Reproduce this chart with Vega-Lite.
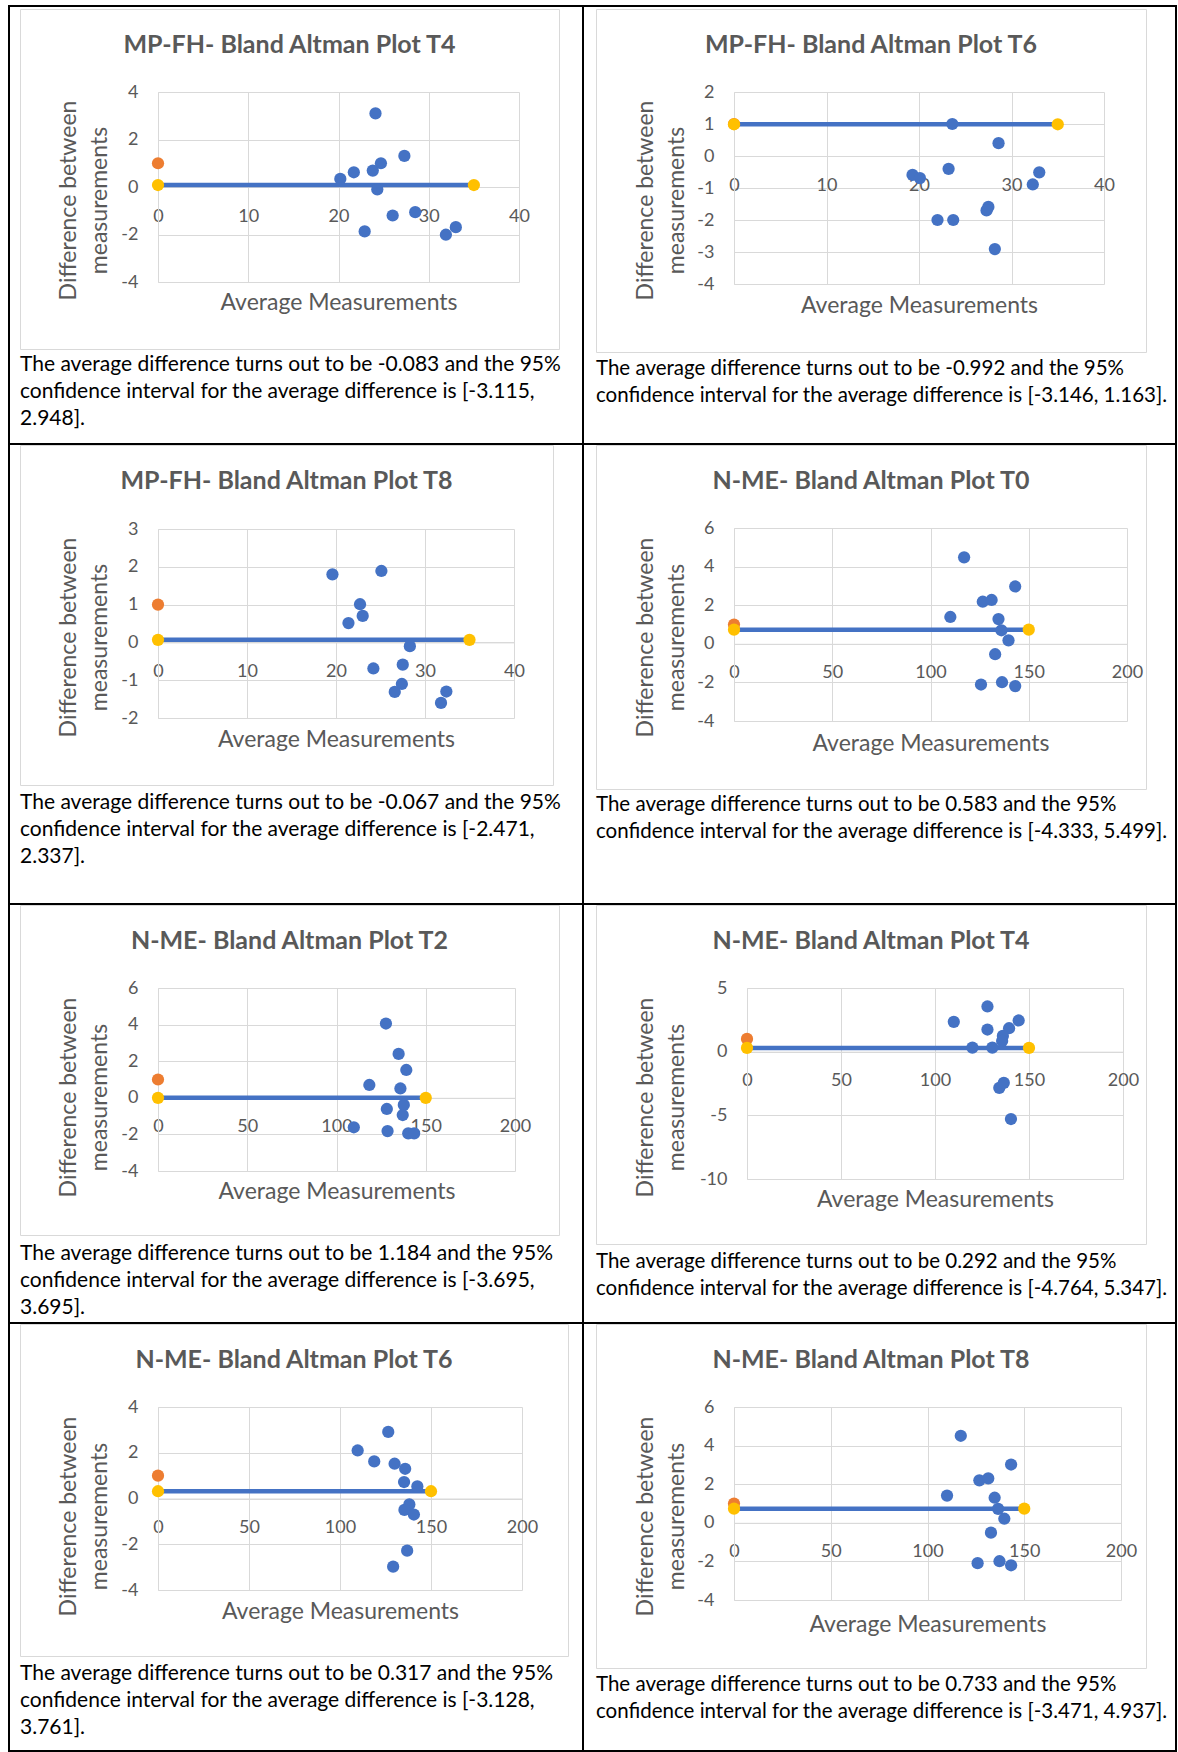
{
"$schema":"https://vega.github.io/schema/vega-lite/v6.json",
"background":"#ffffff",
"padding":{"left":8,"top":5,"right":0,"bottom":0},
"autosize":{"type":"pad"},
"spacing":0,
"columns":9,
"bounds":"flush",
"align":"each",
"config":{
"view":{"stroke":null},
"axis":{"labelFont":"Lato","labelFontSize":18,"labelColor":"#595959","titleFont":"Lato","titleFontSize":23,"titleFontWeight":"normal","titleColor":"#595959","gridColor":"#d9d9d9","gridWidth":1,"domainColor":"#d9d9d9","domainWidth":1,"ticks":false,"tickSize":0,"labelFlush":false,"labelOverlap":false,"labelBound":false},
"axisX":{"labelPadding":29,"labelBaseline":"middle","titleBaseline":"middle"},
"axisY":{"labelPadding":20,"titleAngle":-90,"titleBaseline":"middle","titleAlign":"center","titleLineHeight":31},
"title":{"font":"Lato","fontSize":25,"fontWeight":"bold","color":"#595959","frame":"group","anchor":"middle","baseline":"middle"}
},
"datasets":{
"pts":[
{"panel":"p1","kind":"obs","avg":24.1,"diff":3.1},{"panel":"p1","kind":"obs","avg":20.2,"diff":0.34},{"panel":"p1","kind":"obs","avg":21.7,"diff":0.62},{"panel":"p1","kind":"obs","avg":23.8,"diff":0.69},{"panel":"p1","kind":"obs","avg":24.7,"diff":1.0},{"panel":"p1","kind":"obs","avg":27.3,"diff":1.31},{"panel":"p1","kind":"obs","avg":24.3,"diff":-0.1},{"panel":"p1","kind":"obs","avg":26.0,"diff":-1.2},{"panel":"p1","kind":"obs","avg":28.5,"diff":-1.06},{"panel":"p1","kind":"obs","avg":22.9,"diff":-1.87},{"panel":"p1","kind":"obs","avg":31.9,"diff":-2.01},{"panel":"p1","kind":"obs","avg":33.0,"diff":-1.69},
{"panel":"p1","kind":"ref","avg":0,"diff":1},{"panel":"p1","kind":"mean","avg":0,"diff":0.083},{"panel":"p1","kind":"mean","avg":35,"diff":0.083},
{"panel":"p2","kind":"obs","avg":23.6,"diff":1.0},{"panel":"p2","kind":"obs","avg":28.6,"diff":0.4},{"panel":"p2","kind":"obs","avg":23.2,"diff":-0.4},{"panel":"p2","kind":"obs","avg":19.3,"diff":-0.59},{"panel":"p2","kind":"obs","avg":20.1,"diff":-0.69},{"panel":"p2","kind":"obs","avg":33.0,"diff":-0.51},{"panel":"p2","kind":"obs","avg":32.3,"diff":-0.89},{"panel":"p2","kind":"obs","avg":27.5,"diff":-1.59},{"panel":"p2","kind":"obs","avg":27.3,"diff":-1.7},{"panel":"p2","kind":"obs","avg":22.0,"diff":-2.0},{"panel":"p2","kind":"obs","avg":23.7,"diff":-2.0},{"panel":"p2","kind":"obs","avg":28.2,"diff":-2.91},
{"panel":"p2","kind":"ref","avg":0,"diff":1},{"panel":"p2","kind":"mean","avg":0,"diff":0.992},{"panel":"p2","kind":"mean","avg":35,"diff":0.992},
{"panel":"p3","kind":"obs","avg":19.6,"diff":1.8},{"panel":"p3","kind":"obs","avg":25.1,"diff":1.89},{"panel":"p3","kind":"obs","avg":22.7,"diff":1.01},{"panel":"p3","kind":"obs","avg":23.0,"diff":0.7},{"panel":"p3","kind":"obs","avg":21.4,"diff":0.51},{"panel":"p3","kind":"obs","avg":28.3,"diff":-0.1},{"panel":"p3","kind":"obs","avg":24.2,"diff":-0.69},{"panel":"p3","kind":"obs","avg":27.5,"diff":-0.59},{"panel":"p3","kind":"obs","avg":27.4,"diff":-1.1},{"panel":"p3","kind":"obs","avg":26.6,"diff":-1.31},{"panel":"p3","kind":"obs","avg":32.4,"diff":-1.3},{"panel":"p3","kind":"obs","avg":31.8,"diff":-1.6},
{"panel":"p3","kind":"ref","avg":0,"diff":1},{"panel":"p3","kind":"mean","avg":0,"diff":0.067},{"panel":"p3","kind":"mean","avg":35,"diff":0.067},
{"panel":"p4","kind":"obs","avg":117.1,"diff":4.48},{"panel":"p4","kind":"obs","avg":143.1,"diff":2.97},{"panel":"p4","kind":"obs","avg":126.6,"diff":2.18},{"panel":"p4","kind":"obs","avg":131.1,"diff":2.27},{"panel":"p4","kind":"obs","avg":110.1,"diff":1.39},{"panel":"p4","kind":"obs","avg":134.6,"diff":1.28},{"panel":"p4","kind":"obs","avg":136.1,"diff":0.7},{"panel":"p4","kind":"obs","avg":139.7,"diff":0.18},{"panel":"p4","kind":"obs","avg":132.9,"diff":-0.54},{"panel":"p4","kind":"obs","avg":125.7,"diff":-2.11},{"panel":"p4","kind":"obs","avg":136.4,"diff":-1.99},{"panel":"p4","kind":"obs","avg":143.1,"diff":-2.19},
{"panel":"p4","kind":"ref","avg":0,"diff":1},{"panel":"p4","kind":"mean","avg":0,"diff":0.733},{"panel":"p4","kind":"mean","avg":150,"diff":0.733},
{"panel":"p5","kind":"obs","avg":127.7,"diff":4.06},{"panel":"p5","kind":"obs","avg":134.8,"diff":2.4},{"panel":"p5","kind":"obs","avg":139.1,"diff":1.52},{"panel":"p5","kind":"obs","avg":118.4,"diff":0.7},{"panel":"p5","kind":"obs","avg":135.8,"diff":0.51},{"panel":"p5","kind":"obs","avg":137.7,"diff":-0.39},{"panel":"p5","kind":"obs","avg":137.1,"diff":-0.94},{"panel":"p5","kind":"obs","avg":128.2,"diff":-0.61},{"panel":"p5","kind":"obs","avg":109.7,"diff":-1.61},{"panel":"p5","kind":"obs","avg":128.6,"diff":-1.82},{"panel":"p5","kind":"obs","avg":140.2,"diff":-1.94},{"panel":"p5","kind":"obs","avg":143.5,"diff":-1.94},
{"panel":"p5","kind":"ref","avg":0,"diff":1},{"panel":"p5","kind":"mean","avg":0,"diff":0},{"panel":"p5","kind":"mean","avg":150,"diff":0},
{"panel":"p6","kind":"obs","avg":127.9,"diff":3.55},{"panel":"p6","kind":"obs","avg":110.0,"diff":2.34},{"panel":"p6","kind":"obs","avg":127.9,"diff":1.74},{"panel":"p6","kind":"obs","avg":144.5,"diff":2.45},{"panel":"p6","kind":"obs","avg":139.4,"diff":1.84},{"panel":"p6","kind":"obs","avg":136.1,"diff":1.24},{"panel":"p6","kind":"obs","avg":135.7,"diff":0.84},{"panel":"p6","kind":"obs","avg":119.9,"diff":0.32},{"panel":"p6","kind":"obs","avg":130.5,"diff":0.32},{"panel":"p6","kind":"obs","avg":134.2,"diff":-2.84},{"panel":"p6","kind":"obs","avg":136.6,"diff":-2.45},{"panel":"p6","kind":"obs","avg":140.4,"diff":-5.29},
{"panel":"p6","kind":"ref","avg":0,"diff":1},{"panel":"p6","kind":"mean","avg":0,"diff":0.292},{"panel":"p6","kind":"mean","avg":150,"diff":0.292},
{"panel":"p7","kind":"obs","avg":126.5,"diff":2.91},{"panel":"p7","kind":"obs","avg":109.7,"diff":2.1},{"panel":"p7","kind":"obs","avg":118.8,"diff":1.62},{"panel":"p7","kind":"obs","avg":130.0,"diff":1.52},{"panel":"p7","kind":"obs","avg":135.8,"diff":1.3},{"panel":"p7","kind":"obs","avg":135.2,"diff":0.72},{"panel":"p7","kind":"obs","avg":142.5,"diff":0.53},{"panel":"p7","kind":"obs","avg":138.1,"diff":-0.26},{"panel":"p7","kind":"obs","avg":135.4,"diff":-0.5},{"panel":"p7","kind":"obs","avg":140.6,"diff":-0.7},{"panel":"p7","kind":"obs","avg":136.9,"diff":-2.28},{"panel":"p7","kind":"obs","avg":129.2,"diff":-2.98},
{"panel":"p7","kind":"ref","avg":0,"diff":1},{"panel":"p7","kind":"mean","avg":0,"diff":0.317},{"panel":"p7","kind":"mean","avg":150,"diff":0.317},
{"panel":"p8","kind":"obs","avg":117.2,"diff":4.51},{"panel":"p8","kind":"obs","avg":143.2,"diff":3.02},{"panel":"p8","kind":"obs","avg":126.8,"diff":2.2},{"panel":"p8","kind":"obs","avg":131.4,"diff":2.3},{"panel":"p8","kind":"obs","avg":110.1,"diff":1.41},{"panel":"p8","kind":"obs","avg":134.7,"diff":1.3},{"panel":"p8","kind":"obs","avg":136.5,"diff":0.72},{"panel":"p8","kind":"obs","avg":139.7,"diff":0.21},{"panel":"p8","kind":"obs","avg":132.8,"diff":-0.51},{"panel":"p8","kind":"obs","avg":125.9,"diff":-2.09},{"panel":"p8","kind":"obs","avg":137.2,"diff":-1.99},{"panel":"p8","kind":"obs","avg":143.2,"diff":-2.2},
{"panel":"p8","kind":"ref","avg":0,"diff":1},{"panel":"p8","kind":"mean","avg":0,"diff":0.733},{"panel":"p8","kind":"mean","avg":150,"diff":0.733}
],
"txt":[
{"cell":"c1","line":0,"text":"The average difference turns out to be -0.083 and the 95%"},{"cell":"c1","line":1,"text":"confidence interval for the average difference is [-3.115,"},{"cell":"c1","line":2,"text":"2.948]."},
{"cell":"c2","line":0,"text":"The average difference turns out to be -0.992 and the 95%"},{"cell":"c2","line":1,"text":"confidence interval for the average difference is [-3.146, 1.163]."},
{"cell":"c3","line":0,"text":"The average difference turns out to be -0.067 and the 95%"},{"cell":"c3","line":1,"text":"confidence interval for the average difference is [-2.471,"},{"cell":"c3","line":2,"text":"2.337]."},
{"cell":"c4","line":0,"text":"The average difference turns out to be 0.583 and the 95%"},{"cell":"c4","line":1,"text":"confidence interval for the average difference is [-4.333, 5.499]."},
{"cell":"c5","line":0,"text":"The average difference turns out to be 1.184 and the 95%"},{"cell":"c5","line":1,"text":"confidence interval for the average difference is [-3.695,"},{"cell":"c5","line":2,"text":"3.695]."},
{"cell":"c6","line":0,"text":"The average difference turns out to be 0.292 and the 95%"},{"cell":"c6","line":1,"text":"confidence interval for the average difference is [-4.764, 5.347]."},
{"cell":"c7","line":0,"text":"The average difference turns out to be 0.317 and the 95%"},{"cell":"c7","line":1,"text":"confidence interval for the average difference is [-3.128,"},{"cell":"c7","line":2,"text":"3.761]."},
{"cell":"c8","line":0,"text":"The average difference turns out to be 0.733 and the 95%"},{"cell":"c8","line":1,"text":"confidence interval for the average difference is [-3.471, 4.937]."}
]
},
"concat":[
{"width":2,"height":2,"mark":"point","data":{"values":[]},"view":{"fill":"#000"}},{"width":10,"height":2,"mark":"point","data":{"values":[]},"view":{"fill":"#000"}},{"width":560,"height":2,"mark":"point","data":{"values":[]},"view":{"fill":"#000"}},{"width":2,"height":2,"mark":"point","data":{"values":[]},"view":{"fill":"#000"}},{"width":2,"height":2,"mark":"point","data":{"values":[]},"view":{"fill":"#000"}},{"width":12,"height":2,"mark":"point","data":{"values":[]},"view":{"fill":"#000"}},{"width":577,"height":2,"mark":"point","data":{"values":[]},"view":{"fill":"#000"}},{"width":2,"height":2,"mark":"point","data":{"values":[]},"view":{"fill":"#000"}},{"width":2,"height":2,"mark":"point","data":{"values":[]},"view":{"fill":"#000"}},

{"width":2,"height":2,"mark":"point","data":{"values":[]},"view":{"fill":"#000"}},{"width":10,"height":2,"mark":"point","data":{"values":[]}},{"width":560,"height":2,"mark":"point","data":{"values":[]}},{"width":2,"height":2,"mark":"point","data":{"values":[]}},{"width":2,"height":2,"mark":"point","data":{"values":[]},"view":{"fill":"#000"}},{"width":12,"height":2,"mark":"point","data":{"values":[]}},{"width":577,"height":2,"mark":"point","data":{"values":[]}},{"width":2,"height":2,"mark":"point","data":{"values":[]}},{"width":2,"height":2,"mark":"point","data":{"values":[]},"view":{"fill":"#000"}},

{"width":2,"height":343,"mark":"point","data":{"values":[]},"view":{"fill":"#000"}},{"width":10,"height":343,"mark":"point","data":{"values":[]}},
{"width":539,"height":340,"view":{"stroke":"#d9d9d9","fill":"#ffffff"},"title":{"text":"MP-FH- Bland Altman Plot T4","offset":-49},"data":{"name":"pts"},"transform":[{"filter":"datum.panel=='p1'"}],"resolve":{"axis":{"x":"independent","y":"independent"}},
"layer":[
{"transform":[{"filter":"datum.kind=='mean'"}],"mark":{"type":"line","color":"#4472c4","strokeWidth":4.5},"encoding":{"x":{"field":"avg","type":"quantitative","scale":{"domain":[0,40],"range":[138,499],"nice":false,"zero":false},"axis":{"orient":"bottom","offset":-162,"values":[0,10,20,30,40],"grid":false,"title":"Average Measurements","titleY":115,"labelExpr":"''+datum.value"}},"y":{"field":"diff","type":"quantitative","scale":{"domain":[-4,4],"range":[273,83],"nice":false,"zero":false},"axis":{"orient":"left","offset":-138,"values":[-4,-2,0,2,4],"grid":true,"title":["Difference between","measurements"],"titleX":-89.5,"titleY":191,"labelExpr":"''+datum.value"}}}},
{"transform":[{"filter":"datum.kind=='obs'"}],"mark":{"type":"circle","color":"#4472c4","size":150,"opacity":1},"encoding":{"x":{"field":"avg","type":"quantitative","scale":{"domain":[0,40],"range":[138,499],"nice":false,"zero":false},"axis":{"orient":"top","values":[0,10,20,30,40],"grid":true,"labels":false,"domain":false,"title":null}},"y":{"field":"diff","type":"quantitative","scale":{"domain":[-4,4],"range":[273,83],"nice":false,"zero":false},"axis":null}}},
{"transform":[{"filter":"datum.kind=='ref'"}],"mark":{"type":"circle","color":"#ed7d31","size":150,"opacity":1},"encoding":{"x":{"field":"avg","type":"quantitative","scale":{"domain":[0,40],"range":[138,499],"nice":false,"zero":false},"axis":null},"y":{"field":"diff","type":"quantitative","scale":{"domain":[-4,4],"range":[273,83],"nice":false,"zero":false},"axis":null}}},
{"transform":[{"filter":"datum.kind=='mean'"}],"mark":{"type":"circle","color":"#ffc000","size":150,"opacity":1},"encoding":{"x":{"field":"avg","type":"quantitative","scale":{"domain":[0,40],"range":[138,499],"nice":false,"zero":false},"axis":null},"y":{"field":"diff","type":"quantitative","scale":{"domain":[-4,4],"range":[273,83],"nice":false,"zero":false},"axis":null}}}
]},
{"width":2,"height":343,"mark":"point","data":{"values":[]}},{"width":2,"height":343,"mark":"point","data":{"values":[]},"view":{"fill":"#000"}},{"width":12,"height":343,"mark":"point","data":{"values":[]}},
{"width":550,"height":343,"view":{"stroke":"#d9d9d9","fill":"#ffffff"},"title":{"text":"MP-FH- Bland Altman Plot T6","offset":-49},"data":{"name":"pts"},"transform":[{"filter":"datum.panel=='p2'"}],"resolve":{"axis":{"x":"independent","y":"independent"}},
"layer":[
{"transform":[{"filter":"datum.kind=='mean'"}],"mark":{"type":"line","color":"#4472c4","strokeWidth":4.5},"encoding":{"x":{"field":"avg","type":"quantitative","scale":{"domain":[0,40],"range":[138,508],"nice":false,"zero":false},"axis":{"orient":"bottom","offset":-196,"values":[0,10,20,30,40],"grid":false,"title":"Average Measurements","titleY":149,"labelExpr":"''+datum.value"}},"y":{"field":"diff","type":"quantitative","scale":{"domain":[-4,2],"range":[275,83],"nice":false,"zero":false},"axis":{"orient":"left","offset":-138,"values":[-4,-3,-2,-1,0,1,2],"grid":true,"title":["Difference between","measurements"],"titleX":-88.7,"titleY":191,"labelExpr":"''+datum.value"}}}},
{"transform":[{"filter":"datum.kind=='obs'"}],"mark":{"type":"circle","color":"#4472c4","size":150,"opacity":1},"encoding":{"x":{"field":"avg","type":"quantitative","scale":{"domain":[0,40],"range":[138,508],"nice":false,"zero":false},"axis":{"orient":"top","values":[0,10,20,30,40],"grid":true,"labels":false,"domain":false,"title":null}},"y":{"field":"diff","type":"quantitative","scale":{"domain":[-4,2],"range":[275,83],"nice":false,"zero":false},"axis":null}}},
{"transform":[{"filter":"datum.kind=='ref'"}],"mark":{"type":"circle","color":"#ed7d31","size":150,"opacity":1},"encoding":{"x":{"field":"avg","type":"quantitative","scale":{"domain":[0,40],"range":[138,508],"nice":false,"zero":false},"axis":null},"y":{"field":"diff","type":"quantitative","scale":{"domain":[-4,2],"range":[275,83],"nice":false,"zero":false},"axis":null}}},
{"transform":[{"filter":"datum.kind=='mean'"}],"mark":{"type":"circle","color":"#ffc000","size":150,"opacity":1},"encoding":{"x":{"field":"avg","type":"quantitative","scale":{"domain":[0,40],"range":[138,508],"nice":false,"zero":false},"axis":null},"y":{"field":"diff","type":"quantitative","scale":{"domain":[-4,2],"range":[275,83],"nice":false,"zero":false},"axis":null}}}
]},
{"width":2,"height":343,"mark":"point","data":{"values":[]}},{"width":2,"height":343,"mark":"point","data":{"values":[]},"view":{"fill":"#000"}},

{"width":2,"height":91,"mark":"point","data":{"values":[]},"view":{"fill":"#000"}},{"width":10,"height":91,"mark":"point","data":{"values":[]}},
{"width":560,"height":91,"data":{"name":"txt"},"transform":[{"filter":"datum.cell=='c1'"}],"mark":{"type":"text","align":"left","baseline":"middle","font":"Lato","fontSize":21,"color":"#000000"},"encoding":{"x":{"datum":0,"type":"quantitative","scale":{"domain":[0,1],"nice":false,"zero":false},"axis":null},"y":{"field":"line","type":"quantitative","scale":{"domain":[-0.481,2.889],"reverse":true,"nice":false,"zero":false},"axis":null},"text":{"field":"text"}}},
{"width":2,"height":91,"mark":"point","data":{"values":[]}},{"width":2,"height":91,"mark":"point","data":{"values":[]},"view":{"fill":"#000"}},{"width":12,"height":91,"mark":"point","data":{"values":[]}},
{"width":577,"height":91,"data":{"name":"txt"},"transform":[{"filter":"datum.cell=='c2'"}],"mark":{"type":"text","align":"left","baseline":"middle","font":"Lato","fontSize":20.5,"color":"#000000"},"encoding":{"x":{"datum":0,"type":"quantitative","scale":{"domain":[0,1],"nice":false,"zero":false},"axis":null},"y":{"field":"line","type":"quantitative","scale":{"domain":[-0.63,2.74],"reverse":true,"nice":false,"zero":false},"axis":null},"text":{"field":"text"}}},
{"width":2,"height":91,"mark":"point","data":{"values":[]}},{"width":2,"height":91,"mark":"point","data":{"values":[]},"view":{"fill":"#000"}},

{"width":2,"height":2,"mark":"point","data":{"values":[]},"view":{"fill":"#000"}},{"width":10,"height":2,"mark":"point","data":{"values":[]},"view":{"fill":"#000"}},{"width":560,"height":2,"mark":"point","data":{"values":[]},"view":{"fill":"#000"}},{"width":2,"height":2,"mark":"point","data":{"values":[]},"view":{"fill":"#000"}},{"width":2,"height":2,"mark":"point","data":{"values":[]},"view":{"fill":"#000"}},{"width":12,"height":2,"mark":"point","data":{"values":[]},"view":{"fill":"#000"}},{"width":577,"height":2,"mark":"point","data":{"values":[]},"view":{"fill":"#000"}},{"width":2,"height":2,"mark":"point","data":{"values":[]},"view":{"fill":"#000"}},{"width":2,"height":2,"mark":"point","data":{"values":[]},"view":{"fill":"#000"}},

{"width":2,"height":344,"mark":"point","data":{"values":[]},"view":{"fill":"#000"}},{"width":10,"height":344,"mark":"point","data":{"values":[]}},
{"width":533,"height":340,"view":{"stroke":"#d9d9d9","fill":"#ffffff"},"title":{"text":"MP-FH- Bland Altman Plot T8","offset":-49},"data":{"name":"pts"},"transform":[{"filter":"datum.panel=='p3'"}],"resolve":{"axis":{"x":"independent","y":"independent"}},
"layer":[
{"transform":[{"filter":"datum.kind=='mean'"}],"mark":{"type":"line","color":"#4472c4","strokeWidth":4.5},"encoding":{"x":{"field":"avg","type":"quantitative","scale":{"domain":[0,40],"range":[138,494],"nice":false,"zero":false},"axis":{"orient":"bottom","offset":-142.6,"values":[0,10,20,30,40],"grid":false,"title":"Average Measurements","titleY":97.5,"labelExpr":"''+datum.value"}},"y":{"field":"diff","type":"quantitative","scale":{"domain":[-2,3],"range":[273,84],"nice":false,"zero":false},"axis":{"orient":"left","offset":-138,"values":[-2,-1,0,1,2,3],"grid":true,"title":["Difference between","measurements"],"titleX":-89.5,"titleY":192,"labelExpr":"''+datum.value"}}}},
{"transform":[{"filter":"datum.kind=='obs'"}],"mark":{"type":"circle","color":"#4472c4","size":150,"opacity":1},"encoding":{"x":{"field":"avg","type":"quantitative","scale":{"domain":[0,40],"range":[138,494],"nice":false,"zero":false},"axis":{"orient":"top","values":[0,10,20,30,40],"grid":true,"labels":false,"domain":false,"title":null}},"y":{"field":"diff","type":"quantitative","scale":{"domain":[-2,3],"range":[273,84],"nice":false,"zero":false},"axis":null}}},
{"transform":[{"filter":"datum.kind=='ref'"}],"mark":{"type":"circle","color":"#ed7d31","size":150,"opacity":1},"encoding":{"x":{"field":"avg","type":"quantitative","scale":{"domain":[0,40],"range":[138,494],"nice":false,"zero":false},"axis":null},"y":{"field":"diff","type":"quantitative","scale":{"domain":[-2,3],"range":[273,84],"nice":false,"zero":false},"axis":null}}},
{"transform":[{"filter":"datum.kind=='mean'"}],"mark":{"type":"circle","color":"#ffc000","size":150,"opacity":1},"encoding":{"x":{"field":"avg","type":"quantitative","scale":{"domain":[0,40],"range":[138,494],"nice":false,"zero":false},"axis":null},"y":{"field":"diff","type":"quantitative","scale":{"domain":[-2,3],"range":[273,84],"nice":false,"zero":false},"axis":null}}}
]},
{"width":2,"height":344,"mark":"point","data":{"values":[]}},{"width":2,"height":344,"mark":"point","data":{"values":[]},"view":{"fill":"#000"}},{"width":12,"height":344,"mark":"point","data":{"values":[]}},
{"width":550,"height":344,"view":{"stroke":"#d9d9d9","fill":"#ffffff"},"title":{"text":"N-ME- Bland Altman Plot T0","offset":-49},"data":{"name":"pts"},"transform":[{"filter":"datum.panel=='p4'"}],"resolve":{"axis":{"x":"independent","y":"independent"}},
"layer":[
{"transform":[{"filter":"datum.kind=='mean'"}],"mark":{"type":"line","color":"#4472c4","strokeWidth":4.5},"encoding":{"x":{"field":"avg","type":"quantitative","scale":{"domain":[0,200],"range":[138,531],"nice":false,"zero":false},"axis":{"orient":"bottom","offset":-145.2,"values":[0,50,100,150,200],"grid":false,"title":"Average Measurements","titleY":99.4,"labelExpr":"''+datum.value"}},"y":{"field":"diff","type":"quantitative","scale":{"domain":[-4,6],"range":[276,83],"nice":false,"zero":false},"axis":{"orient":"left","offset":-138,"values":[-4,-2,0,2,4,6],"grid":true,"title":["Difference between","measurements"],"titleX":-88.7,"titleY":192,"labelExpr":"''+datum.value"}}}},
{"transform":[{"filter":"datum.kind=='obs'"}],"mark":{"type":"circle","color":"#4472c4","size":150,"opacity":1},"encoding":{"x":{"field":"avg","type":"quantitative","scale":{"domain":[0,200],"range":[138,531],"nice":false,"zero":false},"axis":{"orient":"top","values":[0,50,100,150,200],"grid":true,"labels":false,"domain":false,"title":null}},"y":{"field":"diff","type":"quantitative","scale":{"domain":[-4,6],"range":[276,83],"nice":false,"zero":false},"axis":null}}},
{"transform":[{"filter":"datum.kind=='ref'"}],"mark":{"type":"circle","color":"#ed7d31","size":150,"opacity":1},"encoding":{"x":{"field":"avg","type":"quantitative","scale":{"domain":[0,200],"range":[138,531],"nice":false,"zero":false},"axis":null},"y":{"field":"diff","type":"quantitative","scale":{"domain":[-4,6],"range":[276,83],"nice":false,"zero":false},"axis":null}}},
{"transform":[{"filter":"datum.kind=='mean'"}],"mark":{"type":"circle","color":"#ffc000","size":150,"opacity":1},"encoding":{"x":{"field":"avg","type":"quantitative","scale":{"domain":[0,200],"range":[138,531],"nice":false,"zero":false},"axis":null},"y":{"field":"diff","type":"quantitative","scale":{"domain":[-4,6],"range":[276,83],"nice":false,"zero":false},"axis":null}}}
]},
{"width":2,"height":344,"mark":"point","data":{"values":[]}},{"width":2,"height":344,"mark":"point","data":{"values":[]},"view":{"fill":"#000"}},

{"width":2,"height":114,"mark":"point","data":{"values":[]},"view":{"fill":"#000"}},{"width":10,"height":114,"mark":"point","data":{"values":[]}},
{"width":560,"height":114,"data":{"name":"txt"},"transform":[{"filter":"datum.cell=='c3'"}],"mark":{"type":"text","align":"left","baseline":"middle","font":"Lato","fontSize":21,"color":"#000000"},"encoding":{"x":{"datum":0,"type":"quantitative","scale":{"domain":[0,1],"nice":false,"zero":false},"axis":null},"y":{"field":"line","type":"quantitative","scale":{"domain":[-0.5,3.722],"reverse":true,"nice":false,"zero":false},"axis":null},"text":{"field":"text"}}},
{"width":2,"height":114,"mark":"point","data":{"values":[]}},{"width":2,"height":114,"mark":"point","data":{"values":[]},"view":{"fill":"#000"}},{"width":12,"height":114,"mark":"point","data":{"values":[]}},
{"width":577,"height":114,"data":{"name":"txt"},"transform":[{"filter":"datum.cell=='c4'"}],"mark":{"type":"text","align":"left","baseline":"middle","font":"Lato","fontSize":20.5,"color":"#000000"},"encoding":{"x":{"datum":0,"type":"quantitative","scale":{"domain":[0,1],"nice":false,"zero":false},"axis":null},"y":{"field":"line","type":"quantitative","scale":{"domain":[-0.581,3.641],"reverse":true,"nice":false,"zero":false},"axis":null},"text":{"field":"text"}}},
{"width":2,"height":114,"mark":"point","data":{"values":[]}},{"width":2,"height":114,"mark":"point","data":{"values":[]},"view":{"fill":"#000"}},

{"width":2,"height":2,"mark":"point","data":{"values":[]},"view":{"fill":"#000"}},{"width":10,"height":2,"mark":"point","data":{"values":[]},"view":{"fill":"#000"}},{"width":560,"height":2,"mark":"point","data":{"values":[]},"view":{"fill":"#000"}},{"width":2,"height":2,"mark":"point","data":{"values":[]},"view":{"fill":"#000"}},{"width":2,"height":2,"mark":"point","data":{"values":[]},"view":{"fill":"#000"}},{"width":12,"height":2,"mark":"point","data":{"values":[]},"view":{"fill":"#000"}},{"width":577,"height":2,"mark":"point","data":{"values":[]},"view":{"fill":"#000"}},{"width":2,"height":2,"mark":"point","data":{"values":[]},"view":{"fill":"#000"}},{"width":2,"height":2,"mark":"point","data":{"values":[]},"view":{"fill":"#000"}},

{"width":2,"height":339,"mark":"point","data":{"values":[]},"view":{"fill":"#000"}},{"width":10,"height":339,"mark":"point","data":{"values":[]}},
{"width":539,"height":330,"view":{"stroke":"#d9d9d9","fill":"#ffffff"},"title":{"text":"N-ME- Bland Altman Plot T2","offset":-49},"data":{"name":"pts"},"transform":[{"filter":"datum.panel=='p5'"}],"resolve":{"axis":{"x":"independent","y":"independent"}},
"layer":[
{"transform":[{"filter":"datum.kind=='mean'"}],"mark":{"type":"line","color":"#4472c4","strokeWidth":4.5},"encoding":{"x":{"field":"avg","type":"quantitative","scale":{"domain":[0,200],"range":[138,495],"nice":false,"zero":false},"axis":{"orient":"bottom","offset":-137.2,"values":[0,50,100,150,200],"grid":false,"title":"Average Measurements","titleY":93.6,"labelExpr":"''+datum.value"}},"y":{"field":"diff","type":"quantitative","scale":{"domain":[-4,6],"range":[266,83],"nice":false,"zero":false},"axis":{"orient":"left","offset":-138,"values":[-4,-2,0,2,4,6],"grid":true,"title":["Difference between","measurements"],"titleX":-89.5,"titleY":192,"labelExpr":"''+datum.value"}}}},
{"transform":[{"filter":"datum.kind=='obs'"}],"mark":{"type":"circle","color":"#4472c4","size":150,"opacity":1},"encoding":{"x":{"field":"avg","type":"quantitative","scale":{"domain":[0,200],"range":[138,495],"nice":false,"zero":false},"axis":{"orient":"top","values":[0,50,100,150,200],"grid":true,"labels":false,"domain":false,"title":null}},"y":{"field":"diff","type":"quantitative","scale":{"domain":[-4,6],"range":[266,83],"nice":false,"zero":false},"axis":null}}},
{"transform":[{"filter":"datum.kind=='ref'"}],"mark":{"type":"circle","color":"#ed7d31","size":150,"opacity":1},"encoding":{"x":{"field":"avg","type":"quantitative","scale":{"domain":[0,200],"range":[138,495],"nice":false,"zero":false},"axis":null},"y":{"field":"diff","type":"quantitative","scale":{"domain":[-4,6],"range":[266,83],"nice":false,"zero":false},"axis":null}}},
{"transform":[{"filter":"datum.kind=='mean'"}],"mark":{"type":"circle","color":"#ffc000","size":150,"opacity":1},"encoding":{"x":{"field":"avg","type":"quantitative","scale":{"domain":[0,200],"range":[138,495],"nice":false,"zero":false},"axis":null},"y":{"field":"diff","type":"quantitative","scale":{"domain":[-4,6],"range":[266,83],"nice":false,"zero":false},"axis":null}}}
]},
{"width":2,"height":339,"mark":"point","data":{"values":[]}},{"width":2,"height":339,"mark":"point","data":{"values":[]},"view":{"fill":"#000"}},{"width":12,"height":339,"mark":"point","data":{"values":[]}},
{"width":550,"height":339,"view":{"stroke":"#d9d9d9","fill":"#ffffff"},"title":{"text":"N-ME- Bland Altman Plot T4","offset":-49},"data":{"name":"pts"},"transform":[{"filter":"datum.panel=='p6'"}],"resolve":{"axis":{"x":"independent","y":"independent"}},
"layer":[
{"transform":[{"filter":"datum.kind=='mean'"}],"mark":{"type":"line","color":"#4472c4","strokeWidth":4.5},"encoding":{"x":{"field":"avg","type":"quantitative","scale":{"domain":[0,200],"range":[151,527],"nice":false,"zero":false},"axis":{"orient":"bottom","offset":-192.3,"values":[0,50,100,150,200],"grid":false,"title":"Average Measurements","titleY":147.5,"labelExpr":"''+datum.value"}},"y":{"field":"diff","type":"quantitative","scale":{"domain":[-10,5],"range":[274,83],"nice":false,"zero":false},"axis":{"orient":"left","offset":-151,"values":[-10,-5,0,5],"grid":true,"title":["Difference between","measurements"],"titleX":-101.7,"titleY":192,"labelExpr":"''+datum.value"}}}},
{"transform":[{"filter":"datum.kind=='obs'"}],"mark":{"type":"circle","color":"#4472c4","size":150,"opacity":1},"encoding":{"x":{"field":"avg","type":"quantitative","scale":{"domain":[0,200],"range":[151,527],"nice":false,"zero":false},"axis":{"orient":"top","values":[0,50,100,150,200],"grid":true,"labels":false,"domain":false,"title":null}},"y":{"field":"diff","type":"quantitative","scale":{"domain":[-10,5],"range":[274,83],"nice":false,"zero":false},"axis":null}}},
{"transform":[{"filter":"datum.kind=='ref'"}],"mark":{"type":"circle","color":"#ed7d31","size":150,"opacity":1},"encoding":{"x":{"field":"avg","type":"quantitative","scale":{"domain":[0,200],"range":[151,527],"nice":false,"zero":false},"axis":null},"y":{"field":"diff","type":"quantitative","scale":{"domain":[-10,5],"range":[274,83],"nice":false,"zero":false},"axis":null}}},
{"transform":[{"filter":"datum.kind=='mean'"}],"mark":{"type":"circle","color":"#ffc000","size":150,"opacity":1},"encoding":{"x":{"field":"avg","type":"quantitative","scale":{"domain":[0,200],"range":[151,527],"nice":false,"zero":false},"axis":null},"y":{"field":"diff","type":"quantitative","scale":{"domain":[-10,5],"range":[274,83],"nice":false,"zero":false},"axis":null}}}
]},
{"width":2,"height":339,"mark":"point","data":{"values":[]}},{"width":2,"height":339,"mark":"point","data":{"values":[]},"view":{"fill":"#000"}},

{"width":2,"height":78,"mark":"point","data":{"values":[]},"view":{"fill":"#000"}},{"width":10,"height":78,"mark":"point","data":{"values":[]}},
{"width":560,"height":78,"data":{"name":"txt"},"transform":[{"filter":"datum.cell=='c5'"}],"mark":{"type":"text","align":"left","baseline":"middle","font":"Lato","fontSize":21,"color":"#000000"},"encoding":{"x":{"datum":0,"type":"quantitative","scale":{"domain":[0,1],"nice":false,"zero":false},"axis":null},"y":{"field":"line","type":"quantitative","scale":{"domain":[-0.37,2.519],"reverse":true,"nice":false,"zero":false},"axis":null},"text":{"field":"text"}}},
{"width":2,"height":78,"mark":"point","data":{"values":[]}},{"width":2,"height":78,"mark":"point","data":{"values":[]},"view":{"fill":"#000"}},{"width":12,"height":78,"mark":"point","data":{"values":[]}},
{"width":577,"height":78,"data":{"name":"txt"},"transform":[{"filter":"datum.cell=='c6'"}],"mark":{"type":"text","align":"left","baseline":"middle","font":"Lato","fontSize":20.5,"color":"#000000"},"encoding":{"x":{"datum":0,"type":"quantitative","scale":{"domain":[0,1],"nice":false,"zero":false},"axis":null},"y":{"field":"line","type":"quantitative","scale":{"domain":[-0.667,2.222],"reverse":true,"nice":false,"zero":false},"axis":null},"text":{"field":"text"}}},
{"width":2,"height":78,"mark":"point","data":{"values":[]}},{"width":2,"height":78,"mark":"point","data":{"values":[]},"view":{"fill":"#000"}},

{"width":2,"height":2,"mark":"point","data":{"values":[]},"view":{"fill":"#000"}},{"width":10,"height":2,"mark":"point","data":{"values":[]},"view":{"fill":"#000"}},{"width":560,"height":2,"mark":"point","data":{"values":[]},"view":{"fill":"#000"}},{"width":2,"height":2,"mark":"point","data":{"values":[]},"view":{"fill":"#000"}},{"width":2,"height":2,"mark":"point","data":{"values":[]},"view":{"fill":"#000"}},{"width":12,"height":2,"mark":"point","data":{"values":[]},"view":{"fill":"#000"}},{"width":577,"height":2,"mark":"point","data":{"values":[]},"view":{"fill":"#000"}},{"width":2,"height":2,"mark":"point","data":{"values":[]},"view":{"fill":"#000"}},{"width":2,"height":2,"mark":"point","data":{"values":[]},"view":{"fill":"#000"}},

{"width":2,"height":344,"mark":"point","data":{"values":[]},"view":{"fill":"#000"}},{"width":10,"height":344,"mark":"point","data":{"values":[]}},
{"width":548,"height":332,"view":{"stroke":"#d9d9d9","fill":"#ffffff"},"title":{"text":"N-ME- Bland Altman Plot T6","offset":-49},"data":{"name":"pts"},"transform":[{"filter":"datum.panel=='p7'"}],"resolve":{"axis":{"x":"independent","y":"independent"}},
"layer":[
{"transform":[{"filter":"datum.kind=='mean'"}],"mark":{"type":"line","color":"#4472c4","strokeWidth":4.5},"encoding":{"x":{"field":"avg","type":"quantitative","scale":{"domain":[0,200],"range":[138,502],"nice":false,"zero":false},"axis":{"orient":"bottom","offset":-157.5,"values":[0,50,100,150,200],"grid":false,"title":"Average Measurements","titleY":113.1,"labelExpr":"''+datum.value"}},"y":{"field":"diff","type":"quantitative","scale":{"domain":[-4,4],"range":[266,83],"nice":false,"zero":false},"axis":{"orient":"left","offset":-138,"values":[-4,-2,0,2,4],"grid":true,"title":["Difference between","measurements"],"titleX":-89.5,"titleY":192,"labelExpr":"''+datum.value"}}}},
{"transform":[{"filter":"datum.kind=='obs'"}],"mark":{"type":"circle","color":"#4472c4","size":150,"opacity":1},"encoding":{"x":{"field":"avg","type":"quantitative","scale":{"domain":[0,200],"range":[138,502],"nice":false,"zero":false},"axis":{"orient":"top","values":[0,50,100,150,200],"grid":true,"labels":false,"domain":false,"title":null}},"y":{"field":"diff","type":"quantitative","scale":{"domain":[-4,4],"range":[266,83],"nice":false,"zero":false},"axis":null}}},
{"transform":[{"filter":"datum.kind=='ref'"}],"mark":{"type":"circle","color":"#ed7d31","size":150,"opacity":1},"encoding":{"x":{"field":"avg","type":"quantitative","scale":{"domain":[0,200],"range":[138,502],"nice":false,"zero":false},"axis":null},"y":{"field":"diff","type":"quantitative","scale":{"domain":[-4,4],"range":[266,83],"nice":false,"zero":false},"axis":null}}},
{"transform":[{"filter":"datum.kind=='mean'"}],"mark":{"type":"circle","color":"#ffc000","size":150,"opacity":1},"encoding":{"x":{"field":"avg","type":"quantitative","scale":{"domain":[0,200],"range":[138,502],"nice":false,"zero":false},"axis":null},"y":{"field":"diff","type":"quantitative","scale":{"domain":[-4,4],"range":[266,83],"nice":false,"zero":false},"axis":null}}}
]},
{"width":2,"height":344,"mark":"point","data":{"values":[]}},{"width":2,"height":344,"mark":"point","data":{"values":[]},"view":{"fill":"#000"}},{"width":12,"height":344,"mark":"point","data":{"values":[]}},
{"width":550,"height":344,"view":{"stroke":"#d9d9d9","fill":"#ffffff"},"title":{"text":"N-ME- Bland Altman Plot T8","offset":-49},"data":{"name":"pts"},"transform":[{"filter":"datum.panel=='p8'"}],"resolve":{"axis":{"x":"independent","y":"independent"}},
"layer":[
{"transform":[{"filter":"datum.kind=='mean'"}],"mark":{"type":"line","color":"#4472c4","strokeWidth":4.5},"encoding":{"x":{"field":"avg","type":"quantitative","scale":{"domain":[0,200],"range":[138,525],"nice":false,"zero":false},"axis":{"orient":"bottom","offset":-145.2,"values":[0,50,100,150,200],"grid":false,"title":"Average Measurements","titleY":101.2,"labelExpr":"''+datum.value"}},"y":{"field":"diff","type":"quantitative","scale":{"domain":[-4,6],"range":[276,83],"nice":false,"zero":false},"axis":{"orient":"left","offset":-138,"values":[-4,-2,0,2,4,6],"grid":true,"title":["Difference between","measurements"],"titleX":-88.7,"titleY":192,"labelExpr":"''+datum.value"}}}},
{"transform":[{"filter":"datum.kind=='obs'"}],"mark":{"type":"circle","color":"#4472c4","size":150,"opacity":1},"encoding":{"x":{"field":"avg","type":"quantitative","scale":{"domain":[0,200],"range":[138,525],"nice":false,"zero":false},"axis":{"orient":"top","values":[0,50,100,150,200],"grid":true,"labels":false,"domain":false,"title":null}},"y":{"field":"diff","type":"quantitative","scale":{"domain":[-4,6],"range":[276,83],"nice":false,"zero":false},"axis":null}}},
{"transform":[{"filter":"datum.kind=='ref'"}],"mark":{"type":"circle","color":"#ed7d31","size":150,"opacity":1},"encoding":{"x":{"field":"avg","type":"quantitative","scale":{"domain":[0,200],"range":[138,525],"nice":false,"zero":false},"axis":null},"y":{"field":"diff","type":"quantitative","scale":{"domain":[-4,6],"range":[276,83],"nice":false,"zero":false},"axis":null}}},
{"transform":[{"filter":"datum.kind=='mean'"}],"mark":{"type":"circle","color":"#ffc000","size":150,"opacity":1},"encoding":{"x":{"field":"avg","type":"quantitative","scale":{"domain":[0,200],"range":[138,525],"nice":false,"zero":false},"axis":null},"y":{"field":"diff","type":"quantitative","scale":{"domain":[-4,6],"range":[276,83],"nice":false,"zero":false},"axis":null}}}
]},
{"width":2,"height":344,"mark":"point","data":{"values":[]}},{"width":2,"height":344,"mark":"point","data":{"values":[]},"view":{"fill":"#000"}},

{"width":2,"height":82,"mark":"point","data":{"values":[]},"view":{"fill":"#000"}},{"width":10,"height":82,"mark":"point","data":{"values":[]}},
{"width":560,"height":82,"data":{"name":"txt"},"transform":[{"filter":"datum.cell=='c7'"}],"mark":{"type":"text","align":"left","baseline":"middle","font":"Lato","fontSize":21,"color":"#000000"},"encoding":{"x":{"datum":0,"type":"quantitative","scale":{"domain":[0,1],"nice":false,"zero":false},"axis":null},"y":{"field":"line","type":"quantitative","scale":{"domain":[-0.222,2.815],"reverse":true,"nice":false,"zero":false},"axis":null},"text":{"field":"text"}}},
{"width":2,"height":82,"mark":"point","data":{"values":[]}},{"width":2,"height":82,"mark":"point","data":{"values":[]},"view":{"fill":"#000"}},{"width":12,"height":82,"mark":"point","data":{"values":[]}},
{"width":577,"height":82,"data":{"name":"txt"},"transform":[{"filter":"datum.cell=='c8'"}],"mark":{"type":"text","align":"left","baseline":"middle","font":"Lato","fontSize":20.5,"color":"#000000"},"encoding":{"x":{"datum":0,"type":"quantitative","scale":{"domain":[0,1],"nice":false,"zero":false},"axis":null},"y":{"field":"line","type":"quantitative","scale":{"domain":[-0.63,2.407],"reverse":true,"nice":false,"zero":false},"axis":null},"text":{"field":"text"}}},
{"width":2,"height":82,"mark":"point","data":{"values":[]}},{"width":2,"height":82,"mark":"point","data":{"values":[]},"view":{"fill":"#000"}},

{"width":2,"height":2,"mark":"point","data":{"values":[]},"view":{"fill":"#000"}},{"width":10,"height":2,"mark":"point","data":{"values":[]},"view":{"fill":"#000"}},{"width":560,"height":2,"mark":"point","data":{"values":[]},"view":{"fill":"#000"}},{"width":2,"height":2,"mark":"point","data":{"values":[]},"view":{"fill":"#000"}},{"width":2,"height":2,"mark":"point","data":{"values":[]},"view":{"fill":"#000"}},{"width":12,"height":2,"mark":"point","data":{"values":[]},"view":{"fill":"#000"}},{"width":577,"height":2,"mark":"point","data":{"values":[]},"view":{"fill":"#000"}},{"width":2,"height":2,"mark":"point","data":{"values":[]},"view":{"fill":"#000"}},{"width":2,"height":2,"mark":"point","data":{"values":[]},"view":{"fill":"#000"}}
]
}
